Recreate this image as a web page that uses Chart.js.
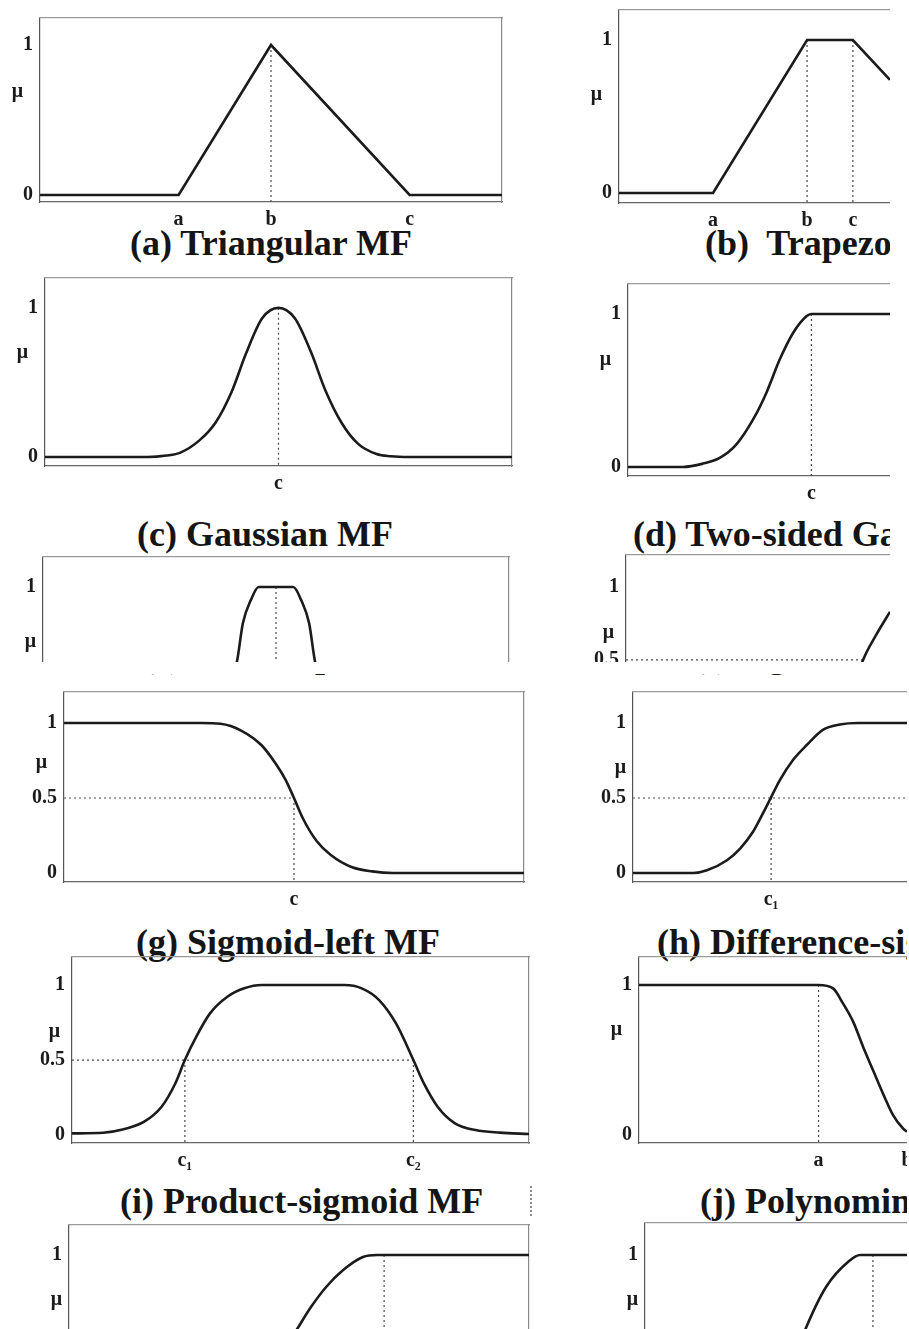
<!DOCTYPE html>
<html>
<head>
<meta charset="utf-8">
<script src="https://cdn.jsdelivr.net/npm/chart.js@4.4.0/dist/chart.umd.min.js"></script>
<style>
  html, body { margin: 0; padding: 0; background: #fff; }
  body { width: 909px; height: 1329px; position: relative; overflow: hidden; }
  .box { position: absolute; }
  .title { position: absolute; font: bold 36px "Liberation Serif", "Times New Roman", serif; color: #151515; white-space: pre; line-height: 40px; }
  .clip { position: absolute; overflow: hidden; }
  .mark { position: absolute; border-left: 2px dotted #8a8a8a; }
</style>
</head>
<body>

<div class="title" style="left:130px; top:223px;">(a) Triangular MF</div>
<div class="clip" style="left:700px; top:215px; width:190px; height:50px;"><div class="title" style="left:5px; top:8px;">(b)  Trapezoidal MF</div></div>
<div class="title" style="left:137px; top:514px;">(c) Gaussian MF</div>
<div class="clip" style="left:628px; top:508px; width:262px; height:50px;"><div class="title" style="left:5px; top:6px;">(d) Two-sided Gaussian MF</div></div>
<div class="clip" style="left:130px; top:674px; width:380px; height:16px;"><div class="title" style="left:12px; top:-39px;">(e) Bell-shaped MF</div></div>
<div class="clip" style="left:680px; top:674px; width:210px; height:16px;"><div class="title" style="left:13px; top:-39px;">(f) Sigmoid-right MF</div></div>
<div class="title" style="left:136px; top:922px;">(g) Sigmoid-left MF</div>
<div class="clip" style="left:650px; top:916px; width:257px; height:50px;"><div class="title" style="left:7px; top:6px;">(h) Difference-sigmoid MF</div></div>
<div class="title" style="left:120px; top:1181px;">(i) Product-sigmoid MF</div>
<div class="clip" style="left:695px; top:1175px; width:212px; height:50px;"><div class="title" style="left:5px; top:6px;">(j) Polynominal-Z MF</div></div>
<div class="mark" style="left:530px; top:1186px; height:30px;"></div>

<script>
// (a) triangular
const triX = [0, 3, 5, 8, 10];
const triY = [0, 0, 1, 0, 0];
const triTicks = [3, 5, 8];
const triNames = ['a', 'b', 'c'];

// (b) trapezoidal
const trapX = [0, 3.47, 6.94, 8.63, 10];
const trapY = [0, 0, 1, 1, 0.74];
const trapTicks = [3.47, 6.94, 8.63];
const trapNames = ['a', 'b', 'c'];

// (c) gaussian
const gaussX = [0, 2.2, 2.6, 2.9, 3.3, 3.65, 4.0, 4.3, 4.65, 5.0, 5.35, 5.7, 6.0, 6.35, 6.7, 7.1, 7.4, 7.8, 10];
const gaussY = [0, 0, 0.01, 0.03, 0.11, 0.23, 0.44, 0.69, 0.93, 1, 0.93, 0.7, 0.45, 0.23, 0.09, 0.02, 0.005, 0, 0];
const gaussC = 5;

// (d) two-sided gaussian
const gauss2X = [0, 2.1, 2.86, 3.5, 4.13, 4.77, 5.28, 5.79, 6.3, 6.81, 7.0, 10];
const gauss2Y = [0, 0, 0.022, 0.059, 0.146, 0.309, 0.484, 0.702, 0.876, 0.985, 1, 1];
const gauss2C = 7.0;

// (e) bell, only the top half survives in the scan
const bellX = [3.8, 4.16, 4.29, 4.46, 4.63, 5.0, 5.37, 5.54, 5.71, 5.84, 6.2];
const bellY = [0.2, 0.5, 0.76, 0.913, 1, 1, 1, 0.913, 0.76, 0.5, 0.2];
const bellC = 5;

// (f) sigmoid-right, only the tail above 0.5 survives
const sigRX = [8.8, 8.98, 9.47, 10];
const sigRY = [0.4, 0.5, 0.67, 0.83];
const sigRC = 8.98;

// (g) sigmoid-left
const sigLX = [0, 3.0, 3.4, 3.85, 4.3, 4.6, 4.82, 5.0, 5.2, 5.5, 5.8, 6.25, 6.7, 7.15, 10];
const sigLY = [1, 1, 0.995, 0.95, 0.85, 0.73, 0.62, 0.5, 0.36, 0.21, 0.12, 0.04, 0.011, 0, 0];
const sigLC = 5;

// (h) difference-sigmoid
const dsigX = [0, 2.2, 2.7, 3.43, 3.91, 4.38, 4.74, 5.04, 5.36, 5.84, 6.35, 6.93, 7.55, 8.2, 10];
const dsigY = [0, 0, 0.018, 0.085, 0.163, 0.275, 0.397, 0.505, 0.62, 0.754, 0.855, 0.955, 0.99, 1, 1];
const dsigC1 = 5.04;

// (i) product-sigmoid
const psigX = [0, 0.68, 1.13, 1.58, 1.96, 2.26, 2.47, 2.72, 3.02, 3.4, 3.77, 4.15, 5.96, 6.34, 6.72, 7.09, 7.47, 7.7, 8.0, 8.38, 8.83, 9.36, 10];
const psigY = [0.011, 0.015, 0.038, 0.089, 0.189, 0.344, 0.5, 0.656, 0.811, 0.922, 0.978, 1, 1, 0.978, 0.9, 0.744, 0.5, 0.344, 0.189, 0.078, 0.033, 0.016, 0.007];
const psigC = [2.47, 7.47];

// (j) polynomial-Z
const zX = [0, 6.7, 7.24, 7.61, 7.99, 8.36, 8.73, 9.1, 9.48, 9.85, 10];
const zY = [1, 1, 0.978, 0.878, 0.756, 0.589, 0.433, 0.278, 0.133, 0.044, 0.022];
const zTicks = [6.7, 10];

// (k) and (l), only the upper part survives
const sX = [4.7, 4.96, 5.26, 5.59, 5.96, 6.39, 6.7, 10];
const sY = [0.38, 0.507, 0.653, 0.787, 0.9, 0.987, 1, 1];
const sB = 6.85;
const piX = [5.9, 6.11, 6.91, 7.79, 8.21, 10];
const piY = [0.4, 0.5, 0.787, 0.96, 1, 1];
const piB = 8.7;

const ink = '#1b1b1b';
const labelFont = { family: '"Liberation Serif", "Times New Roman", serif', size: 20, weight: 'bold' };

const pts = (xs, ys) => xs.map((x, i) => ({ x: x, y: ys[i] }));
const seg = (x1, y1, x2, y2) => [{ x: x1, y: y1 }, { x: x2, y: y2 }];

function panel(p) {
  const yw = 50, pad = 3;
  const xh = p.cut ? 0 : 42;
  const padR = p.open ? 0 : pad;
  const padB = p.cut ? 0 : pad;
  const wrap = document.createElement('div');
  wrap.className = 'box';
  wrap.style.left = (p.left - yw - pad) + 'px';
  wrap.style.top = (p.top - pad) + 'px';
  wrap.style.width = (yw + pad + p.width + padR) + 'px';
  wrap.style.height = (pad + p.height + xh + padB) + 'px';
  const cv = document.createElement('canvas');
  wrap.appendChild(cv);
  document.body.appendChild(wrap);

  const guides = (p.guides || []).map(g => ({
    data: g, borderColor: '#4a4a4a', borderWidth: 1.2, borderDash: [2, 3], pointRadius: 0, tension: 0
  }));

  new Chart(cv, {
    type: 'line',
    data: {
      datasets: [{
        data: p.curve,
        borderColor: ink,
        borderWidth: 2.6,
        pointRadius: 0,
        cubicInterpolationMode: p.smooth ? 'monotone' : 'default',
        tension: 0
      }].concat(guides)
    },
    options: {
      responsive: true,
      maintainAspectRatio: false,
      animation: false,
      events: [],
      layout: { padding: { top: pad, left: pad, right: padR, bottom: padB } },
      plugins: { legend: { display: false }, tooltip: { enabled: false } },
      scales: {
        x: {
          type: 'linear', min: 0, max: 10, position: 'bottom', display: !p.cut,
          grid: { display: false, drawTicks: false },
          border: { display: true, color: '#666', width: 1.2, dash: [1.5, 2] },
          afterBuildTicks: ax => { ax.ticks = (p.xTicks || []).map(v => ({ value: v })); },
          afterFit: ax => { ax.height = xh; ax.paddingLeft = 0; ax.paddingRight = 0; },
          ticks: { autoSkip: false, maxRotation: 0, padding: 6, color: ink, font: labelFont,
                   callback: (v, i) => p.xNames[i] }
        },
        y: {
          type: 'linear', min: p.yMin, max: p.yMax, position: 'left',
          grid: { display: false, drawTicks: false },
          border: { display: true, color: '#555', width: 1.2, dash: [1.5, 2] },
          afterBuildTicks: ax => { ax.ticks = p.yTicks.map(v => ({ value: v })); },
          afterFit: ax => { ax.width = yw; ax.paddingTop = 0; ax.paddingBottom = 0; },
          ticks: { autoSkip: false, padding: 7, color: ink, font: labelFont,
                   callback: (v, i) => p.yNames[i] }
        },
        x2: {
          type: 'linear', min: 0, max: 10, position: 'top',
          grid: { display: false, drawTicks: false },
          ticks: { display: false },
          border: { display: true, color: '#9a9a9a', width: 1.2, dash: [1.5, 3] },
          afterFit: ax => { ax.height = 0; ax.paddingLeft = 0; ax.paddingRight = 0; }
        },
        y2: {
          type: 'linear', min: p.yMin, max: p.yMax, position: 'right', display: !p.open,
          grid: { display: false, drawTicks: false },
          ticks: { display: false },
          border: { display: true, color: '#888', width: 1.2, dash: [1.5, 2] },
          afterFit: ax => { ax.width = 0; ax.paddingTop = 0; ax.paddingBottom = 0; }
        }
      }
    }
  });
}

// (a)
panel({ left: 40, top: 18, width: 462, height: 184, yMin: -0.047, yMax: 1.18,
  curve: pts(triX, triY), xTicks: triTicks, xNames: triNames,
  yTicks: [0, 0.69, 1], yNames: ['0', 'μ  ', '1'],
  guides: [seg(triTicks[1], 1, triTicks[1], -0.047)] });

// (b)
panel({ left: 619, top: 10, width: 271, height: 193, yMin: -0.065, yMax: 1.196, open: true,
  curve: pts(trapX, trapY), xTicks: trapTicks, xNames: trapNames,
  yTicks: [0, 0.64, 1], yNames: ['0', 'μ  ', '1'],
  guides: [seg(trapTicks[1], 1, trapTicks[1], -0.065), seg(trapTicks[2], 1, trapTicks[2], -0.065)] });

// (c)
panel({ left: 45, top: 278, width: 467, height: 188, yMin: -0.06, yMax: 1.2, smooth: true,
  curve: pts(gaussX, gaussY), xTicks: [gaussC], xNames: ['c'],
  yTicks: [0, 0.7, 1], yNames: ['0', 'μ  ', '1'],
  guides: [seg(gaussC, 1, gaussC, -0.06)] });

// (d)
panel({ left: 628, top: 284, width: 262, height: 192, yMin: -0.059, yMax: 1.196, open: true, smooth: true,
  curve: pts(gauss2X, gauss2Y), xTicks: [gauss2C], xNames: ['c'],
  yTicks: [0, 0.7, 1], yNames: ['0', 'μ  ', '1'],
  guides: [seg(gauss2C, 1, gauss2C, -0.059)] });

// (e)
panel({ left: 43, top: 557, width: 466, height: 105, yMin: 0.5, yMax: 1.2, cut: true, smooth: true,
  curve: pts(bellX, bellY), xTicks: [], xNames: [],
  yTicks: [0.633, 1], yNames: ['μ', '1'],
  guides: [seg(bellC, 1, bellC, 0.5)] });

// (f)
panel({ left: 626, top: 555, width: 264, height: 107, yMin: 0.486, yMax: 1.22, cut: true, open: true, smooth: true,
  curve: pts(sigRX, sigRY), xTicks: [], xNames: [],
  yTicks: [0.5, 0.685, 1], yNames: ['0.5', 'μ ', '1'],
  guides: [seg(0, 0.5, sigRC, 0.5)] });

// (g)
panel({ left: 64, top: 692, width: 460, height: 190, yMin: -0.06, yMax: 1.207, smooth: true,
  curve: pts(sigLX, sigLY), xTicks: [sigLC], xNames: ['c'],
  yTicks: [0, 0.5, 0.733, 1], yNames: ['0', '0.5', 'μ  ', '1'],
  guides: [seg(0, 0.5, sigLC, 0.5), seg(sigLC, 0.5, sigLC, -0.06)] });

// (h)
panel({ left: 633, top: 692, width: 274, height: 190, yMin: -0.06, yMax: 1.207, open: true, smooth: true,
  curve: pts(dsigX, dsigY), xTicks: [dsigC1], xNames: ['c\u2081'],
  yTicks: [0, 0.5, 0.7, 1], yNames: ['0', '0.5', 'μ', '1'],
  guides: [seg(0, 0.5, 10, 0.5), seg(dsigC1, 0.5, dsigC1, -0.06)] });

// (i)
panel({ left: 72, top: 957, width: 457, height: 186, yMin: -0.053, yMax: 1.187, smooth: true,
  curve: pts(psigX, psigY), xTicks: psigC, xNames: ['c\u2081', 'c\u2082'],
  yTicks: [0, 0.5, 0.687, 1], yNames: ['0', '0.5', 'μ ', '1'],
  guides: [seg(0, 0.5, psigC[1], 0.5), seg(psigC[0], 0.5, psigC[0], -0.053), seg(psigC[1], 0.5, psigC[1], -0.053)] });

// (j)
panel({ left: 639, top: 957, width: 268, height: 186, yMin: -0.053, yMax: 1.187, open: true, smooth: true,
  curve: pts(zX, zY), xTicks: zTicks, xNames: ['a', 'b'],
  yTicks: [0, 0.7, 1], yNames: ['0', 'μ  ', '1'],
  guides: [seg(zTicks[0], 1, zTicks[0], -0.053)] });

// (k)
panel({ left: 69, top: 1225, width: 460, height: 104, yMin: 0.507, yMax: 1.2, cut: true, smooth: true,
  curve: pts(sX, sY), xTicks: [], xNames: [],
  yTicks: [0.7, 1], yNames: ['μ', '1'],
  guides: [seg(sB, 1, sB, 0.507)] });

// (l)
panel({ left: 645, top: 1223, width: 262, height: 106, yMin: 0.507, yMax: 1.213, cut: true, open: true, smooth: true,
  curve: pts(piX, piY), xTicks: [], xNames: [],
  yTicks: [0.7, 1], yNames: ['μ', '1'],
  guides: [seg(piB, 1, piB, 0.507)] });
</script>
</body>
</html>
